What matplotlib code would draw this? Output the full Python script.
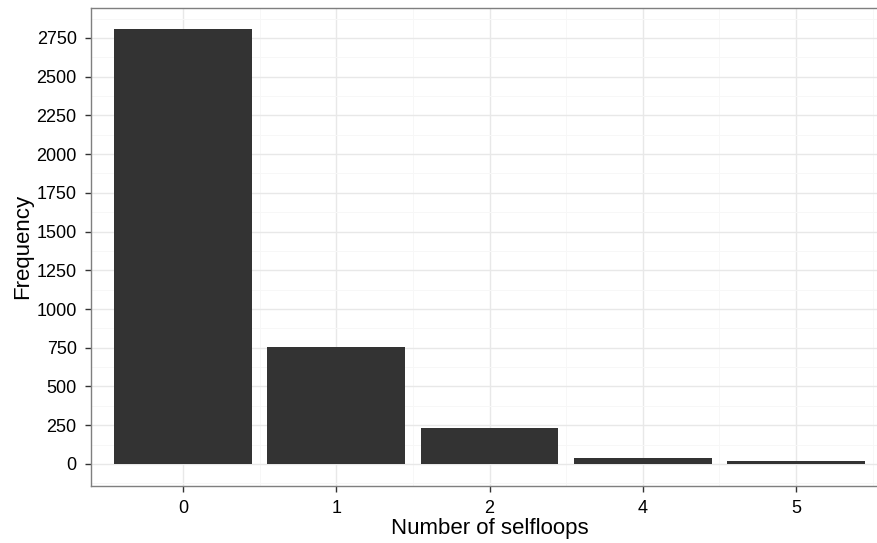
import numpy as np
import matplotlib
matplotlib.use('Agg')
import matplotlib.pyplot as plt
from matplotlib.ticker import MultipleLocator

plt.rcParams['font.family'] = ['Liberation Sans', 'DejaVu Sans']

# 数据
categories = ['0', '1', '2', '4', '5']
frequency = [2806, 755, 232, 37, 19]
y_ticks = [0, 250, 500, 750, 1000, 1250, 1500, 1750, 2000, 2250, 2500, 2750]

W, H = 878, 543
fig = plt.figure(figsize=(W / 100, H / 100), dpi=100)
# 面板右侧超出画布（参考图被裁掉了右边框）
left, right, top, bottom = 91, 888, 7.5, 485.7
ax = fig.add_axes([left / W, 1 - bottom / H, (right - left) / W, (bottom - top) / H])

x = np.arange(1, len(categories) + 1)
ax.bar(x, frequency, width=0.9, color='#333333', zorder=3)

# ggplot 风格的扩展范围
ymax = max(frequency)
pad = ymax * 0.05
ax.set_ylim(-pad, ymax + pad)
ax.set_xlim(0.4, len(categories) + 0.6)

ax.set_xticks(x)
ax.set_xticklabels(categories)
ax.set_yticks(y_ticks)
ax.set_xticks(x + 0.5, minor=True)
ax.yaxis.set_minor_locator(MultipleLocator(125))

ax.grid(True, which='major', color='#e8e8e8', linewidth=1.0, zorder=0)
ax.grid(True, which='minor', color='#f7f7f7', linewidth=0.7, zorder=0)
ax.set_axisbelow(True)

for s in ax.spines.values():
    s.set_color('#7f7f7f')
    s.set_linewidth(1.0)

ax.tick_params(axis='both', which='major', length=4.3, width=1.0, color='#333333',
               labelsize=13, labelcolor='black')
ax.tick_params(axis='y', which='major', pad=6)
ax.tick_params(axis='x', which='major', pad=6)
ax.tick_params(axis='both', which='minor', length=0)

ax.set_xlabel('Number of selfloops', fontsize=16, labelpad=1)
ax.set_ylabel('Frequency', fontsize=16, labelpad=2)

fig.savefig('out.png', dpi=100)
